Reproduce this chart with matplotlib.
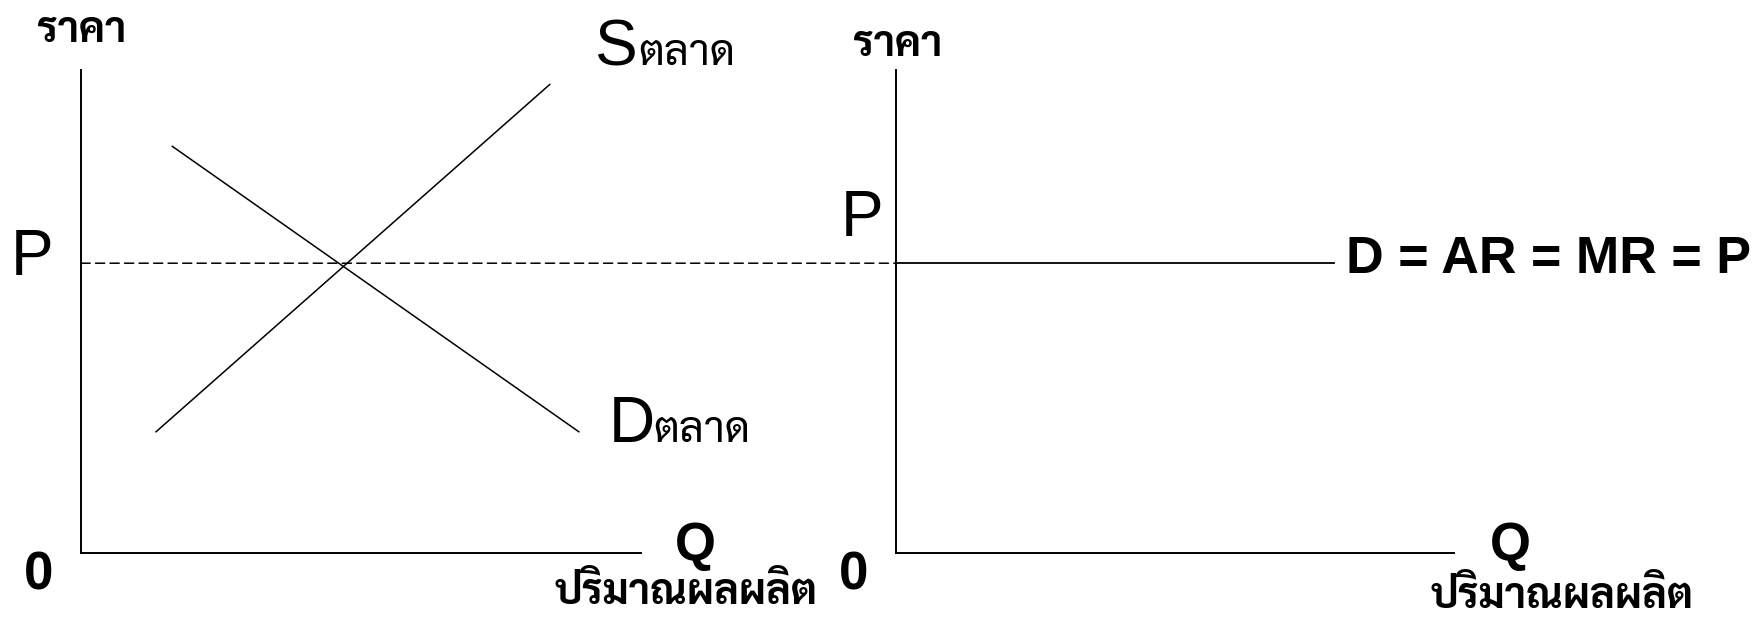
import matplotlib
matplotlib.use("Agg")
import matplotlib.pyplot as plt
from matplotlib.patches import ConnectionPatch

# market (left) and firm (right) diagrams, quantity/price in 0..10 units
price_p = 6.0
supply_q = [1.34, 8.37]
supply_p = [2.51, 9.70]
demand_q = [1.63, 8.89]
demand_p = [8.42, 2.51]
firm_q = [0, 7.85]
firm_p = [price_p, price_p]

THAI = ["Sarabun", "Noto Sans Thai Looped", "DejaVu Sans"]
LATIN = ["Liberation Sans", "DejaVu Sans"]

W, H = 1763, 621
fig = plt.figure(figsize=(W / 100, H / 100), dpi=100)


def px(x, y):
    # reference pixel -> figure fraction
    return x / W, 1 - y / H


ax1 = fig.add_axes([81 / W, 68 / H, 560 / W, 483 / H])
ax2 = fig.add_axes([896 / W, 68 / H, 558 / W, 483 / H])
for ax in (ax1, ax2):
    ax.set_xlim(0, 10)
    ax.set_ylim(0, 10)
    ax.set_xticks([])
    ax.set_yticks([])
    ax.spines[["top", "right"]].set_visible(False)
    for s in ("left", "bottom"):
        ax.spines[s].set_linewidth(1.4)

ax1.plot(supply_q, supply_p, color="black", lw=1.1)
ax1.plot(demand_q, demand_p, color="black", lw=1.1)
ax2.plot(firm_q, firm_p, color="black", lw=1.3)
con = ConnectionPatch(xyA=(0, price_p), coordsA=ax1.transData,
                      xyB=(0, price_p), coordsB=ax2.transData,
                      color="black", lw=1.1, linestyle=(0, (6, 3.5)))
fig.add_artist(con)

# axis labels
for x, y in [(82, 31), (898, 45)]:
    fig.text(*px(x, y), "ราคา", family=THAI, weight="bold", fontsize=30,
             ha="center", va="center")
for x, y in [(686, 594), (1562, 598)]:
    fig.text(*px(x, y), "ปริมาณผลผลิต", family=THAI, weight="bold", fontsize=30,
             ha="center", va="center")
for x in (39, 854):
    fig.text(*px(x, 576), "0", family=LATIN, weight="bold", fontsize=38,
             ha="center", va="center")
for x in (695, 1510):
    fig.text(*px(x, 560), "Q", family=LATIN, weight="bold", fontsize=38,
             ha="center", va="baseline")
fig.text(*px(32, 258), "P", family=LATIN, fontsize=46, ha="center", va="center")
fig.text(*px(862, 219), "P", family=LATIN, fontsize=46, ha="center", va="center")
fig.text(*px(1346, 259), "D = AR = MR = P", family=LATIN, weight="bold",
         fontsize=37.5, ha="left", va="center")

# curve names: big latin letter + thai word on the same baseline
for x, y, letter in [(594, 65, "S"), (609, 442, "D")]:
    fig.text(*px(x, y), letter, family=LATIN, fontsize=46, ha="left", va="baseline")
    fig.text(*px(x + 44, y), "ตลาด", family=THAI, fontsize=31,
             ha="left", va="baseline")

plt.savefig("out.png", dpi=100)
